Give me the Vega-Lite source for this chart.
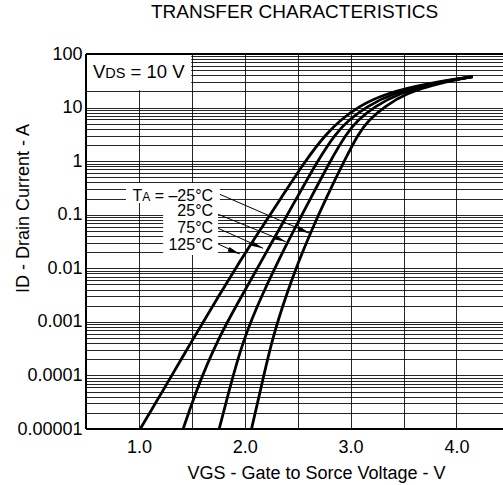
{
  "$schema": "https://vega.github.io/schema/vega-lite/v6.json",
  "width": 417,
  "height": 375,
  "autosize": {"type": "none"},
  "padding": {"left": 86, "top": 54, "right": 0, "bottom": 56},
  "background": "white",
  "title": {"text": "TRANSFER CHARACTERISTICS", "fontSize": 19, "font": "Liberation Sans", "fontWeight": "normal", "color": "#000", "offset": 23, "anchor": "middle", "frame": "group"},
  "config": {
    "view": {"stroke": null},
    "font": "Liberation Sans",
    "axis": {
      "grid": true, "gridColor": "#000", "gridWidth": 1, "gridOpacity": 0.85,
      "domain": false, "ticks": false, "tickSize": 0,
      "labelFont": "Liberation Sans", "labelFontSize": 18, "labelColor": "#000",
      "titleFont": "Liberation Sans", "titleFontSize": 18, "titleFontWeight": "normal", "titleColor": "#000",
      "labelOverlap": false, "labelFlush": false
    }
  },
  "datasets": {
    "curves": [
      {"t": "125", "vgs": 1.012, "id": 0.00001},
      {"t": "125", "vgs": 1.2125, "id": 0.0000463},
      {"t": "125", "vgs": 1.505, "id": 0.000458},
      {"t": "125", "vgs": 1.769, "id": 0.00341},
      {"t": "125", "vgs": 1.963, "id": 0.0143},
      {"t": "125", "vgs": 2.123, "id": 0.045},
      {"t": "125", "vgs": 2.331, "id": 0.188},
      {"t": "125", "vgs": 2.576, "id": 1.05},
      {"t": "125", "vgs": 2.774, "id": 3.31},
      {"t": "125", "vgs": 2.906, "id": 5.86},
      {"t": "125", "vgs": 3.0715, "id": 10.4},
      {"t": "125", "vgs": 3.331, "id": 18.5},
      {"t": "125", "vgs": 3.746, "id": 28.8},
      {"t": "125", "vgs": 4.155, "id": 37.7},
      {"t": "75", "vgs": 1.418, "id": 0.00001},
      {"t": "75", "vgs": 1.5305, "id": 0.0000463},
      {"t": "75", "vgs": 1.739, "id": 0.000458},
      {"t": "75", "vgs": 1.986, "id": 0.00341},
      {"t": "75", "vgs": 2.163, "id": 0.0143},
      {"t": "75", "vgs": 2.304, "id": 0.045},
      {"t": "75", "vgs": 2.481, "id": 0.188},
      {"t": "75", "vgs": 2.692, "id": 1.05},
      {"t": "75", "vgs": 2.859, "id": 3.31},
      {"t": "75", "vgs": 2.982, "id": 5.86},
      {"t": "75", "vgs": 3.152, "id": 10.4},
      {"t": "75", "vgs": 3.392, "id": 18.5},
      {"t": "75", "vgs": 3.784, "id": 28.8},
      {"t": "75", "vgs": 4.155, "id": 37.7},
      {"t": "25", "vgs": 1.758, "id": 0.00001},
      {"t": "25", "vgs": 1.845, "id": 0.0000463},
      {"t": "25", "vgs": 1.982, "id": 0.000458},
      {"t": "25", "vgs": 2.17, "id": 0.00341},
      {"t": "25", "vgs": 2.321, "id": 0.0143},
      {"t": "25", "vgs": 2.449, "id": 0.045},
      {"t": "25", "vgs": 2.614, "id": 0.188},
      {"t": "25", "vgs": 2.812, "id": 1.05},
      {"t": "25", "vgs": 2.963, "id": 3.31},
      {"t": "25", "vgs": 3.067, "id": 5.86},
      {"t": "25", "vgs": 3.227, "id": 10.4},
      {"t": "25", "vgs": 3.454, "id": 18.5},
      {"t": "25", "vgs": 3.813, "id": 28.8},
      {"t": "25", "vgs": 4.155, "id": 37.7},
      {"t": "-25", "vgs": 2.0637, "id": 0.00001},
      {"t": "-25", "vgs": 2.142, "id": 0.0000463},
      {"t": "-25", "vgs": 2.255, "id": 0.000458},
      {"t": "-25", "vgs": 2.397, "id": 0.00341},
      {"t": "-25", "vgs": 2.515, "id": 0.0143},
      {"t": "-25", "vgs": 2.619, "id": 0.045},
      {"t": "-25", "vgs": 2.76, "id": 0.188},
      {"t": "-25", "vgs": 2.944, "id": 1.05},
      {"t": "-25", "vgs": 3.076, "id": 3.31},
      {"t": "-25", "vgs": 3.171, "id": 5.86},
      {"t": "-25", "vgs": 3.322, "id": 10.4},
      {"t": "-25", "vgs": 3.52, "id": 18.5},
      {"t": "-25", "vgs": 3.841, "id": 28.8},
      {"t": "-25", "vgs": 4.155, "id": 37.7}
    ],
    "arrows": [
      {"t": "-25", "x1": 1.7645, "y1": 0.2404, "x2": 2.6138, "y2": 0.045},
      {"t": "25", "x1": 1.7485, "y1": 0.1019, "x2": 2.3874, "y2": 0.0313},
      {"t": "75", "x1": 1.7485, "y1": 0.0557, "x2": 2.1731, "y2": 0.0236},
      {"t": "125", "x1": 1.7485, "y1": 0.0284, "x2": 1.9532, "y2": 0.0185}
    ],
    "labels": [
      {"lab": "= –25°C", "x": 1.701, "y": 0.184},
      {"lab": "25°C", "x": 1.701, "y": 0.0927},
      {"lab": "75°C", "x": 1.701, "y": 0.0456},
      {"lab": "125°C", "x": 1.701, "y": 0.0215}
    ],
    "ta": [{"x": 1.701, "y": 0.184}],
    "vds": [{"x": 0.566, "y": 35}],
    "boxes": [
      {"x": 0.5, "x2": 1.494, "y": 21, "y2": 100},
      {"x": 0.878, "x2": 1.765, "y": 0.1656, "y2": 0.391},
      {"x": 1.229, "x2": 1.748, "y": 0.0177, "y2": 0.1656}
    ],
    "one": [{}]
  },
  "layer": [
    {
      "data": {"name": "boxes"},
      "mark": {"type": "rect", "color": "white", "strokeWidth": 0},
      "encoding": {
        "x": {"field": "x", "type": "quantitative", "title": "VGS - Gate to Sorce Voltage - V"},
        "x2": {"field": "x2"},
        "y": {"field": "y", "type": "quantitative", "title": "ID - Drain Current - A"},
        "y2": {"field": "y2"}
      }
    },
    {
      "data": {"name": "curves"},
      "mark": {"type": "line", "color": "#000", "strokeWidth": 2.8, "interpolate": "basis", "clip": true},
      "encoding": {
        "x": {
          "field": "vgs", "type": "quantitative", "title": "VGS - Gate to Sorce Voltage - V",
          "scale": {"domain": [0.5, 4.44], "nice": false, "zero": false},
          "axis": {
            "values": [1, 1.5, 2, 2.5, 3, 3.5, 4],
            "labelExpr": "datum.value % 1 === 0 ? format(datum.value, '.1f') : ''",
            "labelPadding": 9,
            "titleX": 230, "titleY": 49, "titleAlign": "center", "titleBaseline": "alphabetic"
          }
        },
        "y": {
          "field": "id", "type": "quantitative", "title": "ID - Drain Current - A",
          "scale": {"type": "log", "domain": [0.00001, 100], "nice": false},
          "axis": {
            "values": [0.00001, 0.00002, 0.00003, 0.00004, 0.00005, 0.00006, 0.00007, 0.00008, 0.00009,
                       0.0001, 0.0002, 0.0003, 0.0004, 0.0005, 0.0006, 0.0007, 0.0008, 0.0009,
                       0.001, 0.002, 0.003, 0.004, 0.005, 0.006, 0.007, 0.008, 0.009,
                       0.01, 0.02, 0.03, 0.04, 0.05, 0.06, 0.07, 0.08, 0.09,
                       0.1, 0.2, 0.3, 0.4, 0.5, 0.6, 0.7, 0.8, 0.9,
                       1, 2, 3, 4, 5, 6, 7, 8, 9,
                       10, 20, 30, 40, 50, 60, 70, 80, 90, 100],
            "labelExpr": "abs(log(datum.value)/LN10 - round(log(datum.value)/LN10)) < 0.001 ? format(datum.value, '~f') : ''",
            "labelPadding": 4,
            "titleX": -58, "titleY": 154, "titleAngle": 270, "titleAlign": "center", "titleBaseline": "alphabetic"
          }
        },
        "detail": {"field": "t", "type": "nominal"}
      }
    },
    {
      "data": {"name": "arrows"},
      "mark": {"type": "rule", "color": "#000", "strokeWidth": 1},
      "encoding": {
        "x": {"field": "x1", "type": "quantitative", "title": "VGS - Gate to Sorce Voltage - V"},
        "x2": {"field": "x2"},
        "y": {"field": "y1", "type": "quantitative", "title": "ID - Drain Current - A"},
        "y2": {"field": "y2"}
      }
    },
    {
      "data": {"name": "arrows"},
      "mark": {"type": "point", "shape": "M0,0L-2,-0.4L-2,0.4Z", "size": 150, "filled": true, "color": "#000", "opacity": 1, "angle": 23, "strokeWidth": 0},
      "encoding": {
        "x": {"field": "x2", "type": "quantitative", "title": "VGS - Gate to Sorce Voltage - V"},
        "y": {"field": "y2", "type": "quantitative", "title": "ID - Drain Current - A"}
      }
    },
    {
      "data": {"name": "labels"},
      "mark": {"type": "text", "align": "right", "baseline": "alphabetic", "fontSize": 16, "font": "Liberation Sans", "color": "#000"},
      "encoding": {
        "x": {"field": "x", "type": "quantitative", "title": "VGS - Gate to Sorce Voltage - V"},
        "y": {"field": "y", "type": "quantitative", "title": "ID - Drain Current - A"},
        "text": {"field": "lab"}
      }
    },
    {
      "data": {"name": "ta"},
      "mark": {"type": "text", "align": "right", "baseline": "alphabetic", "fontSize": 12, "font": "Liberation Sans", "color": "#000", "dx": -62.9, "text": "A"},
      "encoding": {
        "x": {"field": "x", "type": "quantitative", "title": "VGS - Gate to Sorce Voltage - V"},
        "y": {"field": "y", "type": "quantitative", "title": "ID - Drain Current - A"}
      }
    },
    {
      "data": {"name": "ta"},
      "mark": {"type": "text", "align": "right", "baseline": "alphabetic", "fontSize": 16, "font": "Liberation Sans", "color": "#000", "dx": -70.9, "text": "T"},
      "encoding": {
        "x": {"field": "x", "type": "quantitative", "title": "VGS - Gate to Sorce Voltage - V"},
        "y": {"field": "y", "type": "quantitative", "title": "ID - Drain Current - A"}
      }
    },
    {
      "data": {"name": "vds"},
      "mark": {"type": "text", "align": "left", "baseline": "alphabetic", "fontSize": 18.5, "font": "Liberation Sans", "color": "#000", "text": "V"},
      "encoding": {
        "x": {"field": "x", "type": "quantitative", "title": "VGS - Gate to Sorce Voltage - V"},
        "y": {"field": "y", "type": "quantitative", "title": "ID - Drain Current - A"}
      }
    },
    {
      "data": {"name": "vds"},
      "mark": {"type": "text", "align": "left", "baseline": "alphabetic", "fontSize": 14.5, "font": "Liberation Sans", "color": "#000", "dx": 12.3, "text": "DS"},
      "encoding": {
        "x": {"field": "x", "type": "quantitative", "title": "VGS - Gate to Sorce Voltage - V"},
        "y": {"field": "y", "type": "quantitative", "title": "ID - Drain Current - A"}
      }
    },
    {
      "data": {"name": "vds"},
      "mark": {"type": "text", "align": "left", "baseline": "alphabetic", "fontSize": 18.5, "font": "Liberation Sans", "color": "#000", "dx": 37.6, "text": "= 10 V"},
      "encoding": {
        "x": {"field": "x", "type": "quantitative", "title": "VGS - Gate to Sorce Voltage - V"},
        "y": {"field": "y", "type": "quantitative", "title": "ID - Drain Current - A"}
      }
    },
    {
      "data": {"name": "one"},
      "mark": {"type": "rule", "color": "#000", "strokeWidth": 2},
      "encoding": {"y": {"datum": 100, "type": "quantitative", "title": "ID - Drain Current - A"}}
    },
    {
      "data": {"name": "one"},
      "mark": {"type": "rule", "color": "#000", "strokeWidth": 2},
      "encoding": {"y": {"datum": 0.00001, "type": "quantitative", "title": "ID - Drain Current - A"}}
    },
    {
      "data": {"name": "one"},
      "mark": {"type": "rule", "color": "#000", "strokeWidth": 2},
      "encoding": {"x": {"datum": 0.5, "type": "quantitative", "title": "VGS - Gate to Sorce Voltage - V"}}
    }
  ]
}
